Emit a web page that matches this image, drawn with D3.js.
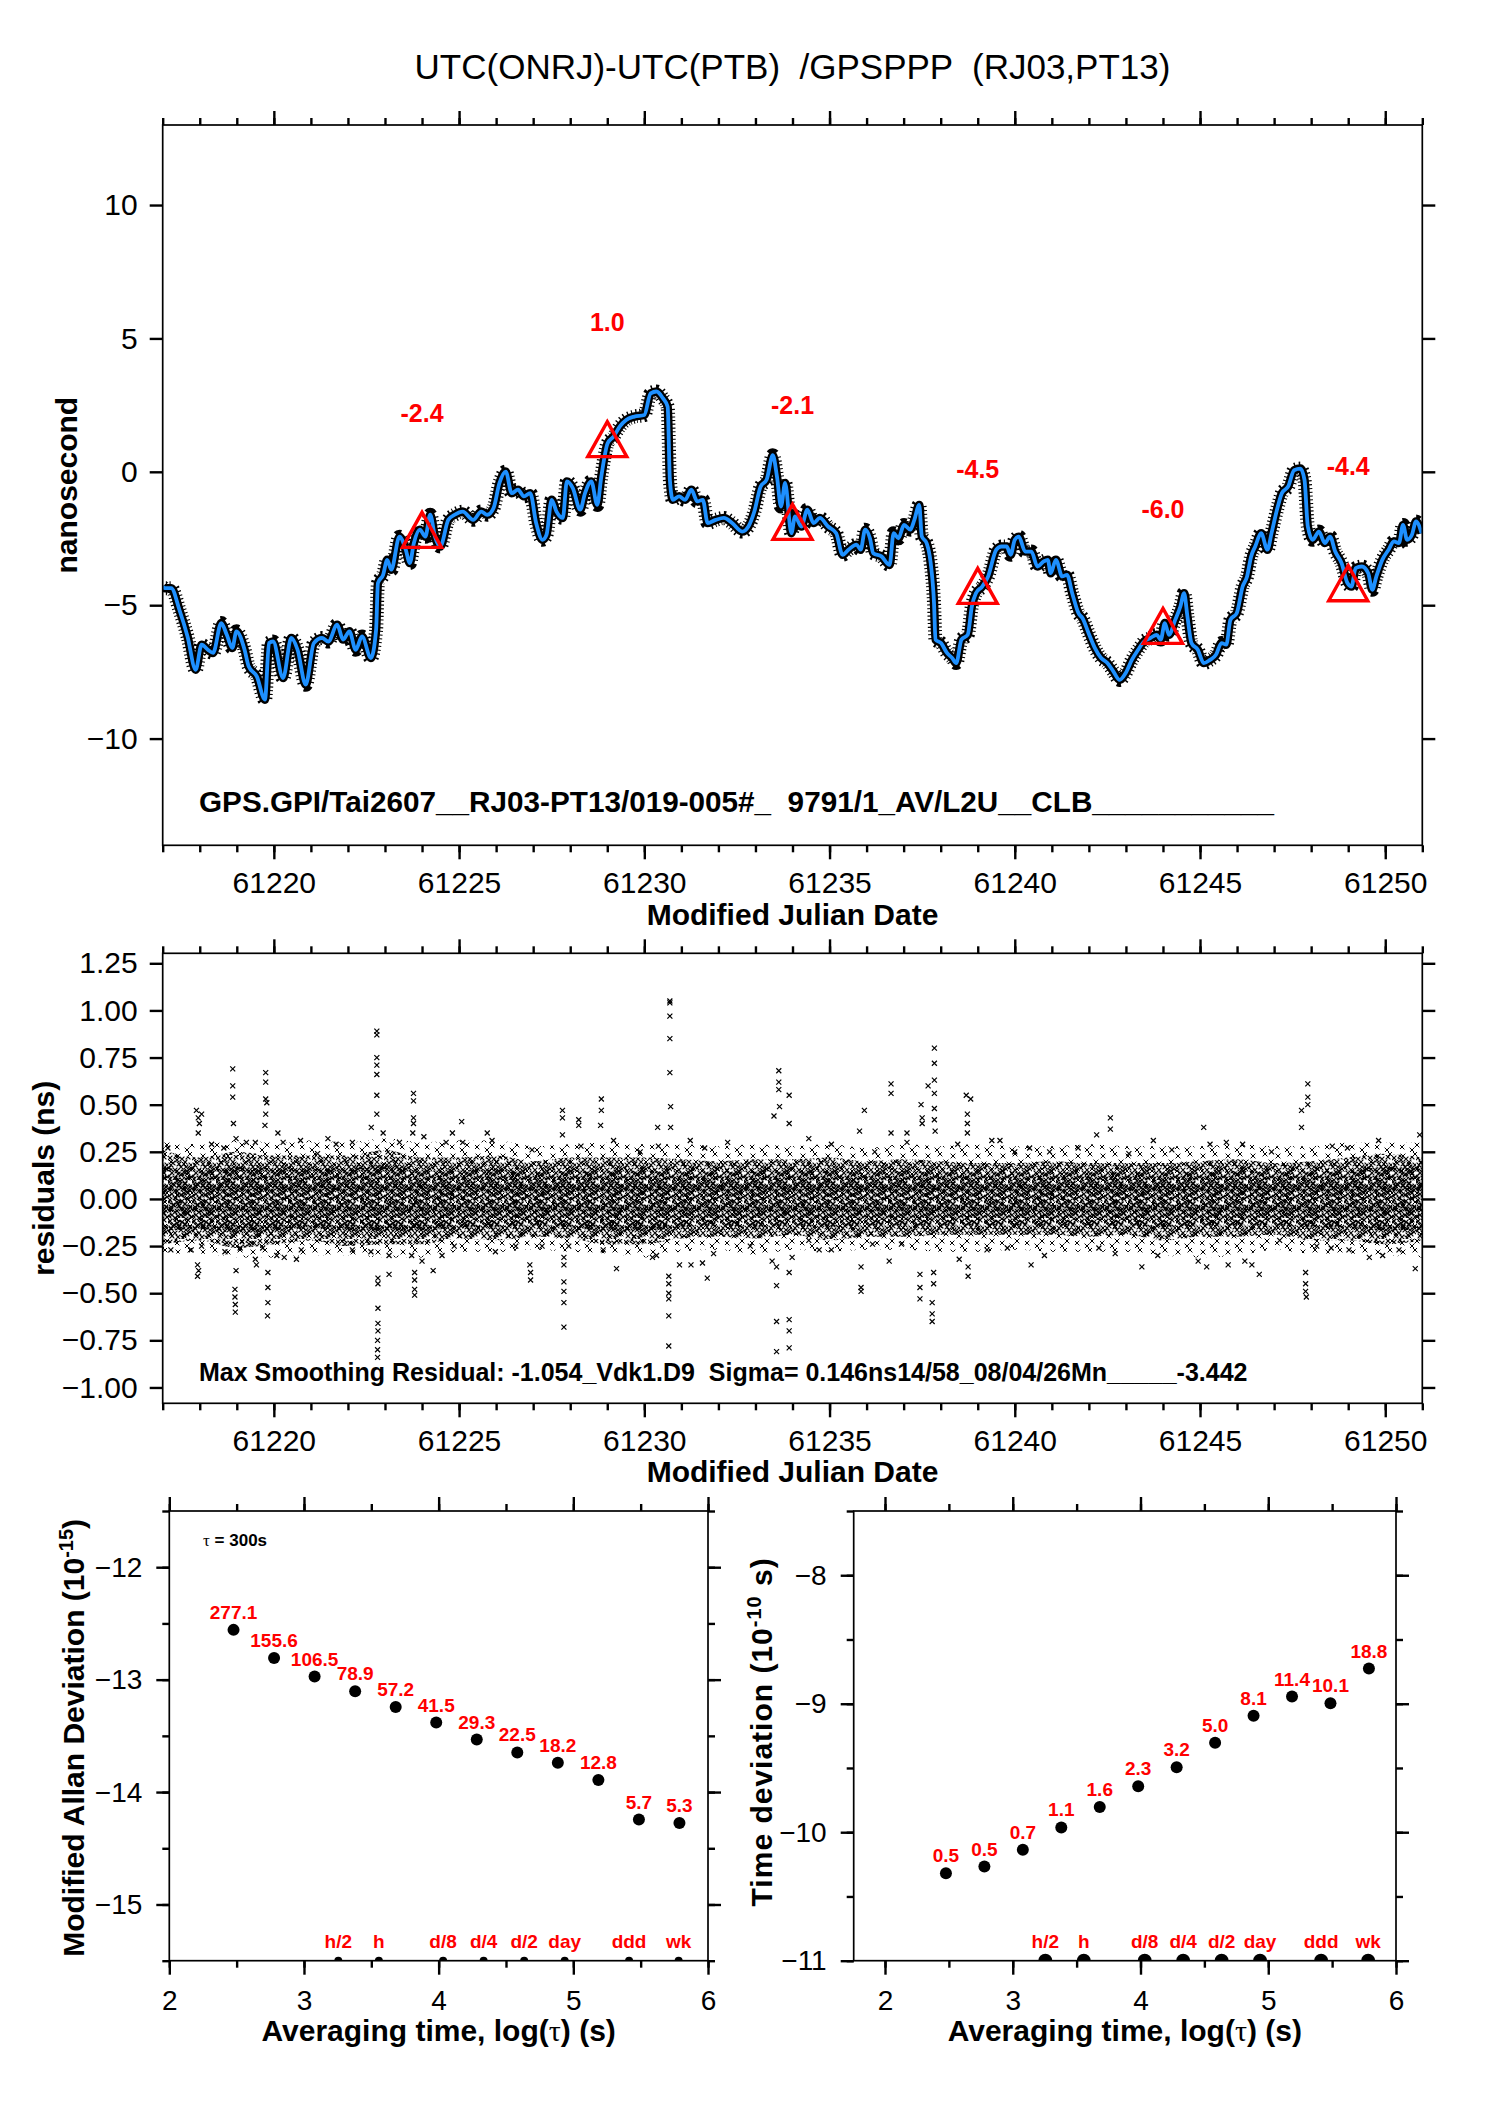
<!DOCTYPE html>
<html>
<head>
<meta charset="utf-8">
<script src="https://cdn.jsdelivr.net/npm/d3@7"></script>
<style>
    body { margin: 0; background: #fff; }
    svg { display: block; font-family: "Liberation Sans", Arial, Helvetica, sans-serif; }
    .frame { fill: none; stroke: #000; stroke-width: 1.7; }
    .pre { white-space: pre; }
</style>
</head>
<body>
<script>
//data

//smoothed phase curve, top panel (MJD, ns)
var phaseMjd = [61217.00,61217.06,61217.23,61217.45,61217.67,61217.89,61218.05,61218.22,61218.36,61218.58,61218.73,61218.88,61218.99,61219.21,61219.32,61219.54,61219.76,61219.87,61219.98,61220.25,61220.47,61220.64,61220.86,61221.08,61221.30,61221.47,61221.71,61221.87,61222.04,61222.21,61222.38,61222.62,61222.76,61222.81,61222.95,61223.06,61223.17,61223.39,61223.56,61223.67,61223.78,61223.94,61224.09,61224.22,61224.35,61224.49,61224.71,61224.88,61225.10,61225.38,61225.60,61225.76,61225.93,61226.09,61226.26,61226.42,61226.59,61226.75,61226.92,61227.08,61227.25,61227.36,61227.50,61227.63,61227.80,61227.91,61228.07,61228.27,61228.40,61228.57,61228.73,61228.84,61229.01,61229.17,61229.34,61229.51,61229.73,61230.00,61230.17,61230.33,61230.50,61230.63,61230.69,61230.77,61230.94,61231.10,61231.27,61231.43,61231.58,61231.71,61231.93,61232.15,61232.37,61232.64,61232.81,61232.97,61233.14,61233.30,61233.47,61233.58,61233.69,61233.80,61233.97,
    61234.07,61234.24,61234.40,61234.57,61234.74,61234.96,61235.18,61235.35,61235.51,61235.73,61235.84,61235.96,61236.09,61236.18,61236.40,61236.62,61236.73,61236.86,61237.01,61237.18,61237.29,61237.42,61237.49,61237.62,61237.73,61237.82,61237.86,61238.01,61238.17,61238.31,61238.42,61238.56,61238.73,61238.84,61238.95,61239.12,61239.28,61239.50,61239.64,61239.78,61239.89,61240.00,61240.11,61240.28,61240.45,61240.61,61240.78,61240.89,61240.97,61241.11,61241.28,61241.41,61241.55,61241.72,61241.83,61241.99,61242.16,61242.33,61242.50,61242.66,61242.83,61242.99,61243.16,61243.33,61243.49,61243.66,61243.83,61243.94,61244.05,61244.16,61244.33,61244.47,61244.57,61244.66,61244.77,61244.94,61245.10,61245.27,61245.43,61245.58,61245.71,61245.82,61245.99,61246.15,61246.27,61246.38,61246.49,61246.65,61246.82,61246.93,61247.10,61247.21,61247.38,61247.54,61247.71,61247.82,61247.91,61248.04,61248.21,61248.37,61248.51,61248.65,61248.82,61248.98,61249.09,61249.20,61249.37,61249.54,61249.65,61249.76,61249.92,61250.09,61250.23,61250.37,61250.48,61250.59,61250.72,61250.83,61250.98];
var phaseNs = [-4.30,-4.36,-4.36,-5.17,-6.17,-7.42,-6.48,-6.67,-6.79,-5.67,-6.11,-6.60,-5.98,-6.67,-7.29,-7.67,-8.54,-6.42,-6.36,-7.73,-6.23,-6.67,-7.98,-6.42,-6.23,-6.36,-5.73,-6.29,-5.98,-6.67,-6.17,-6.98,-5.92,-4.17,-3.86,-3.30,-3.67,-2.43,-2.92,-3.42,-2.67,-2.17,-2.43,-1.61,-2.43,-2.80,-1.80,-1.61,-1.49,-1.80,-1.49,-1.61,-1.36,-0.42,0.01,-0.80,-0.67,-0.92,-0.80,-1.92,-2.55,-2.36,-1.05,-1.49,-1.73,-0.36,-0.61,-1.42,-0.80,-0.36,-1.24,-0.17,1.07,1.32,1.70,1.94,2.07,2.13,2.94,3.01,2.76,2.44,-0.30,-1.05,-0.92,-1.05,-0.67,-1.11,-1.05,-1.92,-1.80,-1.73,-1.92,-2.24,-2.05,-1.49,-0.55,-0.30,0.62,-0.17,-1.30,-0.42,-2.30,
    -1.67,-2.05,-1.42,-1.92,-1.73,-2.05,-2.30,-3.11,-2.92,-2.73,-2.92,-2.17,-2.49,-3.05,-3.17,-3.49,-2.30,-2.49,-1.99,-2.17,-1.80,-1.24,-2.42,-2.67,-3.42,-4.92,-6.29,-6.42,-6.79,-6.98,-7.17,-6.29,-6.11,-5.05,-4.55,-4.30,-3.92,-2.92,-2.80,-2.80,-3.11,-2.55,-2.43,-2.99,-2.99,-3.55,-3.36,-3.30,-3.80,-3.30,-3.92,-3.86,-4.55,-5.30,-5.49,-6.04,-6.60,-6.98,-7.17,-7.48,-7.80,-7.55,-7.05,-6.67,-6.36,-6.23,-6.11,-6.29,-5.67,-6.11,-5.55,-5.05,-4.55,-5.42,-6.42,-6.67,-7.17,-7.05,-6.86,-6.42,-6.48,-5.55,-5.30,-4.30,-3.92,-3.17,-2.80,-2.30,-2.92,-2.30,-1.30,-0.80,-0.55,0.06,0.12,-0.30,-2.05,-2.55,-2.24,-2.67,-2.43,-2.99,-3.42,-4.17,-4.30,-3.61,-3.55,-3.80,-4.42,-3.92,-3.30,-2.92,-2.61,-2.67,-1.99,-2.55,-2.36,-1.86,-2.30];

//red triangles and their values
var markMjd = [61224, 61229, 61234, 61239, 61244, 61249];
var markNs = [-2.4, 1.0, -2.1, -4.5, -6.0, -4.4];

//residual cloud per day (ns): sparse fringe, dense band, darkest core
var bandMjd = [61217,61218,61219,61220,61221,61222,61223,61224,61225,61226,61227,61228,61229,61230,61231,61232,61233,61234,61235,61236,61237,61238,61239,61240,61241,61242,61243,61244,61245,61246,61247,61248,61249,61250,61251];
var edgeHi = [0.31,0.29,0.31,0.30,0.31,0.30,0.32,0.30,0.31,0.31,0.28,0.29,0.30,0.29,0.29,0.28,0.29,0.28,0.29,0.27,0.29,0.28,0.29,0.28,0.28,0.29,0.28,0.28,0.28,0.29,0.28,0.28,0.30,0.30,0.30];
var edgeLo = [-0.29,-0.29,-0.31,-0.31,-0.30,-0.30,-0.31,-0.31,-0.28,-0.28,-0.27,-0.28,-0.29,-0.31,-0.28,-0.27,-0.30,-0.27,-0.28,-0.27,-0.27,-0.28,-0.28,-0.27,-0.28,-0.28,-0.28,-0.30,-0.31,-0.30,-0.27,-0.29,-0.29,-0.30,-0.31];
var bandHi = [0.26,0.22,0.25,0.23,0.23,0.23,0.26,0.22,0.22,0.23,0.20,0.22,0.22,0.22,0.21,0.20,0.21,0.21,0.22,0.20,0.21,0.20,0.19,0.19,0.20,0.19,0.19,0.19,0.20,0.21,0.19,0.20,0.22,0.24,0.22];
var bandLo = [-0.24,-0.22,-0.26,-0.24,-0.22,-0.25,-0.24,-0.24,-0.21,-0.22,-0.20,-0.21,-0.24,-0.24,-0.21,-0.20,-0.21,-0.19,-0.22,-0.20,-0.20,-0.19,-0.19,-0.19,-0.19,-0.20,-0.19,-0.22,-0.20,-0.20,-0.19,-0.22,-0.22,-0.24,-0.22];
var coreHi = [0.17,0.15,0.17,0.16,0.16,0.16,0.18,0.15,0.15,0.16,0.14,0.15,0.15,0.15,0.14,0.14,0.15,0.15,0.15,0.14,0.15,0.14,0.14,0.14,0.14,0.14,0.14,0.14,0.14,0.15,0.14,0.14,0.15,0.17,0.16];
var coreLo = [-0.17,-0.16,-0.18,-0.17,-0.15,-0.17,-0.17,-0.17,-0.15,-0.15,-0.14,-0.15,-0.17,-0.17,-0.15,-0.14,-0.15,-0.14,-0.15,-0.14,-0.14,-0.14,-0.14,-0.14,-0.14,-0.14,-0.14,-0.15,-0.14,-0.14,-0.14,-0.15,-0.15,-0.17,-0.16];

//isolated residual points outside the band (MJD, ns)
var outMjd = [61217.91,61217.96,61217.99,61217.96,61218.05,61217.94,61217.97,61217.94,61218.89,61218.89,61218.89,61218.91,61218.98,61218.95,61218.95,61218.96,61218.96,61218.98,61219.78,61219.78,61219.81,61219.78,61219.78,61219.76,61219.84,61219.84,61219.84,61219.83,61220.11,61219.53,
    61222.78,61222.78,61222.78,61222.78,61222.78,61222.78,61222.78,61222.63,61222.81,61222.81,61222.81,61222.81,61222.81,61222.80,61222.80,61222.80,61223.11,61223.77,61223.77,61223.77,61223.77,61223.75,61223.80,61223.80,61223.80,61223.80,61224.30,61225.07,61226.91,61226.93,61226.93,
    61227.79,61227.79,61227.79,61227.83,61227.83,61227.83,61227.83,61227.83,61227.83,61228.23,61228.23,61228.84,61228.84,61228.82,61229.25,61230.69,61230.69,61230.69,61230.69,61230.69,61230.71,61230.71,61230.66,61230.66,61230.66,61230.66,61230.66,61230.66,61230.36,61231.26,61231.70,61231.57,
    61233.63,61233.63,61233.63,61233.65,61233.50,61233.91,61233.91,61233.57,61233.57,61233.57,61233.91,61233.91,61233.91,61233.91,61233.57,
    61235.94,61235.81,61235.85,61235.85,61235.85,61236.66,61236.66,61236.66,61236.61,61237.09,61237.09,61237.47,61237.50,61237.50,61237.66,61237.83,61237.83,61237.83,61237.83,61237.83,61237.83,61237.85,61237.44,61237.44,61237.44,61237.81,61237.81,61237.77,61237.77,61237.77,
    61238.69,61238.81,61238.72,61238.72,61238.72,61238.74,61238.74,61240.44,61242.58,61242.58,61243.43,61245.10,61246.60,61247.74,61247.74,61247.91,61247.91,61247.91,61247.85,61247.85,61247.85,61247.87,61249.57,61250.81,
    61217.14,61218.32,61218.65,61219.26,61219.50,61220.25,61220.72,61221.18,61221.46,61221.68,61222.12,61222.95,61223.39,61224.05,61224.65,61224.82,61225.10,61225.76,61225.89,61226.97,61228.29,61229.17,61229.89,61230.38,61231.24,61231.63,61232.25,
    61217.22,61217.77,61218.05,61218.68,61219.09,61219.50,61219.70,61220.08,61220.28,61220.61,61220.74,61222.12,61222.62,61223.11,61223.72,61224.00,61224.54,61224.87,61225.98,61226.53,61227.24,61227.96,61228.89,61230.22,61230.33,61230.95,61231.87,61232.86,61233.45,61233.99,
    61234.44,61235.05,61236.22,61238.46,61239.38,61239.60,61240.00,61240.40,61240.94,61241.71,61242.21,61243.08,61243.74,61244.24,61245.27,61245.71,61246.15,61246.93,61248.57,61248.98,61249.82,61250.93,
    61234.44,61234.72,61235.05,61236.16,61236.94,61238.50,61239.25,61239.80,61240.80,61242.27,61242.71,61243.86,61244.95,61245.18,61245.76,61246.21,61246.40,61247.15,61248.15,61248.54,61249.02,61249.93,61250.37];
var outNs = [0.47,0.43,0.40,0.35,0.45,-0.35,-0.38,-0.41,0.69,0.60,0.54,0.40,0.32,-0.48,-0.52,-0.56,-0.60,-0.38,0.67,0.62,0.51,0.53,0.45,0.39,-0.39,-0.47,-0.55,-0.62,0.35,-0.35,
    0.89,0.87,0.75,0.71,0.66,0.55,0.45,0.38,-0.42,-0.45,-0.58,-0.66,-0.70,-0.75,-0.80,-0.84,-0.40,0.56,0.52,0.43,0.40,0.35,-0.39,-0.43,-0.48,-0.51,-0.38,0.41,-0.35,-0.39,-0.43,
    0.47,0.43,0.34,-0.31,-0.35,-0.44,-0.49,-0.55,-0.68,0.42,0.39,0.53,0.47,0.39,-0.37,1.05,1.04,0.97,0.85,0.67,0.49,0.38,-0.41,-0.45,-0.50,-0.53,-0.62,-0.78,0.38,-0.35,-0.42,-0.34,
    0.68,0.62,0.58,0.49,0.44,0.55,0.40,-0.46,-0.65,-0.81,-0.64,-0.70,-0.79,-0.39,-0.36,
    0.47,0.36,-0.36,-0.47,-0.49,0.61,0.56,0.35,-0.33,0.35,0.30,0.50,0.43,0.40,0.60,0.80,0.72,0.63,0.56,0.48,0.42,0.36,-0.40,-0.47,-0.53,-0.39,-0.45,-0.55,-0.61,-0.65,
    0.55,0.53,0.45,0.40,0.35,-0.36,-0.41,-0.35,0.43,0.37,-0.36,0.38,-0.40,0.47,0.38,0.61,0.54,0.50,-0.39,-0.45,-0.49,-0.52,-0.31,-0.37,
    0.27,0.29,0.27,0.30,0.30,0.30,0.31,0.24,0.32,0.29,0.30,0.35,0.30,0.33,0.30,0.35,0.30,0.35,0.31,0.26,0.28,0.31,0.25,0.28,0.31,0.27,0.30,
    -0.27,-0.27,-0.25,-0.28,-0.26,-0.32,-0.26,-0.30,-0.31,-0.32,-0.27,-0.27,-0.28,-0.30,-0.30,-0.33,-0.30,-0.25,-0.28,-0.25,-0.25,-0.25,-0.27,-0.31,-0.30,-0.35,-0.29,-0.25,-0.33,-0.31,
    0.32,0.29,0.25,0.29,0.31,0.31,0.25,0.27,0.25,0.27,0.34,0.24,0.31,0.26,0.29,0.30,0.29,0.25,0.28,0.27,0.31,0.34,
    -0.22,-0.27,-0.27,-0.24,-0.24,-0.32,-0.27,-0.26,-0.30,-0.26,-0.29,-0.30,-0.33,-0.36,-0.35,-0.33,-0.35,-0.22,-0.25,-0.26,-0.27,-0.30,-0.27];

//stability results, bottom panels
var logTau = [2.477, 2.778, 3.079, 3.380, 3.681, 3.982, 4.283, 4.584, 4.885, 5.186, 5.487, 5.788];
var mdev = [277.1, 155.6, 106.5, 78.9, 57.2, 41.5, 29.3, 22.5, 18.2, 12.8, 5.7, 5.3];   //1e-15
var tdev = [0.48, 0.54, 0.73, 1.09, 1.57, 2.28, 3.20, 4.97, 8.06, 11.36, 10.08, 18.78]; //1e-10 s
var spanLogTau = [3.255, 3.556, 4.033, 4.334, 4.635, 4.936, 5.414, 5.782];
var spanNames = ["h/2", "h", "d/8", "d/4", "d/2", "day", "ddd", "wk"];

//tick labels
var mjdTicks = [61220, 61225, 61230, 61235, 61240, 61245, 61250];
var nsTicks = [-10, -5, 0, 5, 10];
var resTicks = [-1.00, -0.75, -0.50, -0.25, 0.00, 0.25, 0.50, 0.75, 1.00, 1.25];
var logTicks = [2, 3, 4, 5, 6];
var mdevTicks = [-15, -14, -13, -12];
var tdevTicks = [-11, -10, -9, -8];

(function(){
    var red = "#ff0000",
        blue = "#1e90ff";

    var svg = d3.select("body")
        .append("svg")
        .attr("width", 1488)
        .attr("height", 2105);

    var defs = svg.append("defs");

    //begin drawing
    window.onload = drawAll();

    function drawAll(){
        makePatterns();

        svg.append("text")
            .attr("class", "pre")
            .attr("x", 792.5)
            .attr("y", 79)
            .attr("text-anchor", "middle")
            .attr("font-size", 35)
            .text("UTC(ONRJ)-UTC(PTB)  /GPSPPP  (RJ03,PT13)");

        setPhasePanel();
        setResidualPanel();
        setMdevPanel();
        setTdevPanel();
    }

    //tiny x glyph used for data crosses
    function crossPath(cx, cy, r){
        return "M" + (cx - r) + "," + (cy - r) + "L" + (cx + r) + "," + (cy + r) +
            "M" + (cx - r) + "," + (cy + r) + "L" + (cx + r) + "," + (cy - r);
    }

    //cross-hatch fills that mimic the cloud of residual crosses
    function makePatterns(){
        var dense = [[2,3],[8,1],[14,4],[20,2],[5,8],[11,9],[17,7],[23,10],[1,13],[7,15],[13,12],[19,16],[4,18],[10,19],[16,17],[22,14],[9,5],[18,12],[3,10],[15,20]];
        var core = [[1,2],[6,5],[12,1],[17,4],[22,7],[3,9],[9,11],[15,9],[20,13],[1,16],[7,18],[13,15],[18,19],[23,17],[11,6]];
        var sparse = [[3,4],[15,2],[21,10],[9,12],[17,17],[2,19],[12,22]];
        [["xdense", dense, 24, 21, 1.1], ["xcore", core, 24, 20, 1.2], ["xsparse", sparse, 25, 24, 1]].forEach(function(p){
            var pat = defs.append("pattern")
                .attr("id", p[0])
                .attr("patternUnits", "userSpaceOnUse")
                .attr("width", p[2])
                .attr("height", p[3]);
            var d = "";
            p[1].forEach(function(c){ d += crossPath(c[0], c[1], 2.4); });
            pat.append("path")
                .attr("d", d)
                .attr("stroke", "#000")
                .attr("stroke-width", p[4])
                .attr("fill", "none");
        });
    }

    //draw a frame with ticks on all four sides
    function setFrame(box, x, y, o){
        var g = svg.append("g");

        function axis(fn, scale, ticks, size, tr, fmt, pad, fs){
            var ax = fn(scale)
                .tickValues(ticks)
                .tickSizeInner(size)
                .tickSizeOuter(0)
                .tickPadding(pad || 0)
                .tickFormat(fmt || "");
            var a = g.append("g")
                .attr("transform", tr)
                .call(ax);
            a.select(".domain").remove();
            a.attr("font-family", null).attr("font-size", fs || 10);
            a.selectAll("line").attr("stroke-width", 2.4);
            a.selectAll("text").attr("fill", "#000");
            return a;
        }

        var bottom = "translate(0," + box.b + ")",
            top = "translate(0," + box.t + ")",
            left = "translate(" + box.l + ",0)",
            right = "translate(" + box.r + ",0)";

        //x minor, x major
        axis(d3.axisTop, x, o.xMinor, o.xMinorLen, top);
        axis(d3.axisBottom, x, o.xMinor, o.xMinorLen, bottom);
        axis(d3.axisTop, x, o.xMajor, o.xMajorLen, top);
        axis(d3.axisBottom, x, o.xMajor, o.xMajorLen, bottom, o.xFmt, o.xPad, o.fontSize);

        //y minor, y major
        if (o.yMinor){
            axis(d3.axisLeft, y, o.yMinor, o.yMinorLen, left);
            axis(d3.axisRight, y, o.yMinor, o.yMinorLen, right);
        }
        axis(d3.axisLeft, y, o.yMajor, o.yMajorLen, left, o.yFmt, o.yPad, o.fontSize);
        axis(d3.axisRight, y, o.yMajor, o.yMajorLen, right);

        g.append("rect")
            .attr("class", "frame")
            .attr("x", box.l)
            .attr("y", box.t)
            .attr("width", box.r - box.l)
            .attr("height", box.b - box.t);
    }

    function clipFor(id, box){
        defs.append("clipPath")
            .attr("id", id)
            .append("rect")
            .attr("x", box.l)
            .attr("y", box.t)
            .attr("width", box.r - box.l)
            .attr("height", box.b - box.t);
        return "url(#" + id + ")";
    }

    function setPhasePanel(){
        var box = {l: 162.7, r: 1422.3, t: 125, b: 845.3};

        var x = d3.scaleLinear().domain([61217, 61251]).range([box.l, box.r]),
            y = d3.scaleLinear().domain([-14, 13]).range([box.b, box.t]);

        var data = phaseMjd.map(function(m, i){ return [m, phaseNs[i]]; });

        var line = d3.line()
            .x(function(d){ return x(d[0]); })
            .y(function(d){ return y(d[1]); })
            .curve(d3.curveMonotoneX);

        var plot = svg.append("g").attr("clip-path", clipFor("clipA", box));

        //black measurement crosses around the smoothed curve
        plot.append("path")
            .datum(data)
            .attr("d", line)
            .attr("fill", "none")
            .attr("stroke", "#000")
            .attr("stroke-width", 14)
            .attr("stroke-dasharray", "1.1 2.6")
            .attr("stroke-linejoin", "round");
        plot.append("path")
            .datum(data)
            .attr("d", line)
            .attr("fill", "none")
            .attr("stroke", "#000")
            .attr("stroke-width", 8.5)
            .attr("stroke-linejoin", "round");

        //smoothed curve
        plot.append("path")
            .datum(data)
            .attr("d", line)
            .attr("fill", "none")
            .attr("stroke", blue)
            .attr("stroke-width", 3.8)
            .attr("stroke-linejoin", "round");

        //triangles and their values
        var marks = markMjd.map(function(m, i){ return [m, markNs[i]]; });
        svg.selectAll(".tri")
            .data(marks)
            .enter()
            .append("path")
            .attr("class", "tri")
            .attr("d", function(d){
                var cx = x(d[0]), cy = y(d[1]);
                return "M" + cx + "," + (cy - 23.5) + "L" + (cx + 19.5) + "," + (cy + 11.5) +
                    "L" + (cx - 19.5) + "," + (cy + 11.5) + "Z";
            })
            .attr("fill", "none")
            .attr("stroke", red)
            .attr("stroke-width", 3.4);
        svg.selectAll(".triLabel")
            .data(marks)
            .enter()
            .append("text")
            .attr("class", "triLabel")
            .attr("x", function(d){ return x(d[0]); })
            .attr("y", function(d){ return y(d[1] + 4.6) + 9; })
            .attr("text-anchor", "middle")
            .attr("font-size", 25)
            .attr("font-weight", "bold")
            .attr("fill", red)
            .text(function(d){ return d[1].toFixed(1); });

        setFrame(box, x, y, {
            xMinor: d3.range(61217, 61252), xMinorLen: 7,
            xMajor: mjdTicks, xMajorLen: 14, xFmt: d3.format("d"), xPad: 12,
            yMajor: nsTicks, yMajorLen: 13, yFmt: d3.format("d"), yPad: 12,
            fontSize: 30
        });

        svg.append("text")
            .attr("class", "pre")
            .attr("x", 199)
            .attr("y", 812)
            .attr("font-size", 29.7)
            .attr("font-weight", "bold")
            .text("GPS.GPI/Tai2607__RJ03-PT13/019-005#_  9791/1_AV/L2U__CLB___________");

        svg.append("text")
            .attr("x", (box.l + box.r) / 2)
            .attr("y", 925)
            .attr("text-anchor", "middle")
            .attr("font-size", 30)
            .attr("font-weight", "bold")
            .text("Modified Julian Date");

        svg.append("text")
            .attr("transform", "translate(77," + (box.t + box.b) / 2 + ") rotate(-90)")
            .attr("text-anchor", "middle")
            .attr("font-size", 30)
            .attr("font-weight", "bold")
            .text("nanosecond");
    }

    function setResidualPanel(){
        var box = {l: 162.7, r: 1422.3, t: 953.3, b: 1403.3};

        var x = d3.scaleLinear().domain([61217, 61251]).range([box.l, box.r]),
            y = d3.scaleLinear().domain([-1.084, 1.303]).range([box.b, box.t]);

        var plot = svg.append("g").attr("clip-path", clipFor("clipB", box));

        //one area generator per layer of the residual cloud
        function layer(hi, lo, fill){
            var area = d3.area()
                .x(function(d, i){ return x(bandMjd[i]); })
                .y0(function(d, i){ return y(lo[i]); })
                .y1(function(d, i){ return y(hi[i]); })
                .curve(d3.curveMonotoneX);
            plot.append("path")
                .datum(bandMjd)
                .attr("d", area)
                .attr("fill", fill);
        }
        layer(edgeHi, edgeLo, "url(#xsparse)");
        layer(bandHi, bandLo, "url(#xdense)");
        layer(coreHi, coreLo, "url(#xcore)");

        //isolated crosses
        var pts = outMjd.map(function(m, i){ return [m, outNs[i]]; });
        plot.selectAll(".res")
            .data(pts)
            .enter()
            .append("path")
            .attr("class", "res")
            .attr("d", function(d){ return crossPath(x(d[0]), y(d[1]), 2.5); })
            .attr("stroke", "#000")
            .attr("stroke-width", 1.2)
            .attr("fill", "none");

        setFrame(box, x, y, {
            xMinor: d3.range(61217, 61252), xMinorLen: 7,
            xMajor: mjdTicks, xMajorLen: 14, xFmt: d3.format("d"), xPad: 12,
            yMajor: resTicks, yMajorLen: 13, yFmt: d3.format(".2f"), yPad: 12,
            fontSize: 30
        });

        svg.append("text")
            .attr("class", "pre")
            .attr("x", 199)
            .attr("y", 1381)
            .attr("font-size", 25)
            .attr("font-weight", "bold")
            .text("Max Smoothing Residual: -1.054_Vdk1.D9  Sigma= 0.146ns14/58_08/04/26Mn_____-3.442");

        svg.append("text")
            .attr("x", (box.l + box.r) / 2)
            .attr("y", 1482)
            .attr("text-anchor", "middle")
            .attr("font-size", 30)
            .attr("font-weight", "bold")
            .text("Modified Julian Date");

        svg.append("text")
            .attr("class", "pre")
            .attr("transform", "translate(54," + (box.t + box.b) / 2 + ") rotate(-90)")
            .attr("text-anchor", "middle")
            .attr("font-size", 30)
            .attr("font-weight", "bold")
            .text("residuals (ns)");
    }

    //shared drawing for the two stability panels
    function setStabilityPanel(box, x, y, vals, labels, yTicks, clipId, spanR){
        var plot = svg.append("g").attr("clip-path", clipFor(clipId, box));

        //averaging-span markers along the bottom edge
        plot.selectAll(".span")
            .data(spanLogTau)
            .enter()
            .append("circle")
            .attr("cx", function(d){ return x(d); })
            .attr("cy", box.b)
            .attr("r", spanR)
            .attr("fill", "#000");
        svg.append("g").selectAll("text")
            .data(spanLogTau)
            .enter()
            .append("text")
            .attr("x", function(d){ return x(d); })
            .attr("y", box.b - 13)
            .attr("text-anchor", "middle")
            .attr("font-size", 19)
            .attr("font-weight", "bold")
            .attr("fill", red)
            .text(function(d, i){ return spanNames[i]; });

        //results
        var pts = logTau.map(function(t, i){ return [t, vals[i], labels[i]]; });
        svg.append("g").selectAll("circle")
            .data(pts)
            .enter()
            .append("circle")
            .attr("cx", function(d){ return x(d[0]); })
            .attr("cy", function(d){ return y(d[1]); })
            .attr("r", 6)
            .attr("fill", "#000");
        svg.append("g").selectAll("text")
            .data(pts)
            .enter()
            .append("text")
            .attr("x", function(d){ return x(d[0]); })
            .attr("y", function(d){ return y(d[1]) - 11; })
            .attr("text-anchor", "middle")
            .attr("font-size", 19)
            .attr("font-weight", "bold")
            .attr("fill", red)
            .text(function(d){ return d[2]; });

        var yDom = y.domain(), yMinor = [];
        for (var v = Math.ceil(yDom[0] * 2) / 2; v <= yDom[1] + 1e-9; v += 0.5){ yMinor.push(v); }
        var xDom = x.domain(), xMinor = [];
        for (var u = Math.ceil(xDom[0] * 2) / 2; u <= xDom[1] + 1e-9; u += 0.5){ xMinor.push(u); }

        setFrame(box, x, y, {
            xMinor: xMinor, xMinorLen: 7,
            xMajor: logTicks, xMajorLen: 14, xFmt: d3.format("d"), xPad: 15,
            yMinor: yMinor, yMinorLen: 7,
            yMajor: yTicks, yMajorLen: 13, yFmt: d3.format("d"), yPad: 14,
            fontSize: 28
        });

        var xt = svg.append("text")
            .attr("x", (box.l + box.r) / 2)
            .attr("y", 2041)
            .attr("text-anchor", "middle")
            .attr("font-size", 30)
            .attr("font-weight", "bold");
        xt.append("tspan").text("Averaging time, log(");
        xt.append("tspan").attr("font-family", "Liberation Serif, serif").attr("font-weight", "normal").text("τ");
        xt.append("tspan").text(") (s)");
    }

    function setMdevPanel(){
        var box = {l: 169.3, r: 708, t: 1511, b: 1960.7};
        var x = d3.scaleLinear().domain([2, 6]).range([box.l, box.r]),
            y = d3.scaleLinear().domain([-15.5, -11.5]).range([box.b, box.t]);

        //log10 of the deviation itself
        var vals = mdev.map(function(v){ return Math.log10(v) - 15; });
        var labels = mdev.map(function(v){ return v.toFixed(1); });

        setStabilityPanel(box, x, y, vals, labels, mdevTicks, "clipC", 4);

        var t = svg.append("text")
            .attr("x", 203)
            .attr("y", 1546)
            .attr("font-size", 17)
            .attr("font-weight", "bold");
        t.append("tspan").attr("font-family", "Liberation Serif, serif").attr("font-weight", "normal").text("τ");
        t.append("tspan").attr("class", "pre").text(" = 300s");

        var lab = svg.append("text")
            .attr("transform", "translate(84," + ((box.t + box.b) / 2 + 2) + ") rotate(-90)")
            .attr("text-anchor", "middle")
            .attr("font-size", 30)
            .attr("font-weight", "bold");
        lab.append("tspan").text("Modified Allan Deviation (10");
        lab.append("tspan").attr("dy", -11).attr("font-size", 20).text("-15");
        lab.append("tspan").attr("dy", 11).text(")");
    }

    function setTdevPanel(){
        var box = {l: 853.7, r: 1396, t: 1511, b: 1960.7};
        var x = d3.scaleLinear().domain([1.755, 6]).range([box.l, box.r]),
            y = d3.scaleLinear().domain([-11, -7.5]).range([box.b, box.t]);

        var vals = tdev.map(function(v){ return Math.log10(v) - 10; });
        var labels = tdev.map(function(v){ return v.toFixed(1); });

        setStabilityPanel(box, x, y, vals, labels, tdevTicks, "clipD", 7);

        var lab = svg.append("text")
            .attr("class", "pre")
            .attr("transform", "translate(772," + ((box.t + box.b) / 2 - 4) + ") rotate(-90)")
            .attr("text-anchor", "middle")
            .attr("font-size", 30)
            .attr("font-weight", "bold")
            .attr("letter-spacing", 1);
        lab.append("tspan").text("Time deviation (10");
        lab.append("tspan").attr("dy", -11).attr("font-size", 20).text("-10");
        lab.append("tspan").attr("dy", 11).text(" s)");
    }
})();
</script>
</body>
</html>
